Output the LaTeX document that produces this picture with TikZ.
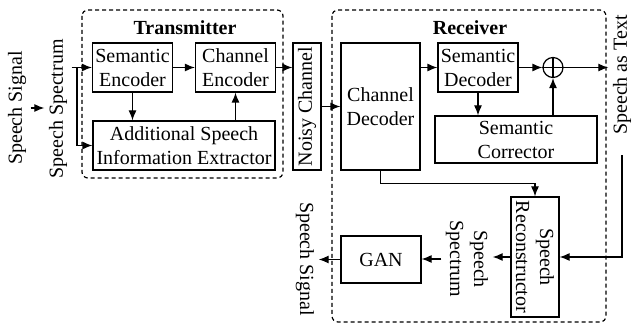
\documentclass[tikz,border=0pt]{standalone}
\usepackage{fontspec}
\setmainfont{Liberation Serif}
\usetikzlibrary{arrows.meta}
\begin{document}
\begin{tikzpicture}[x=0.5pt, y=-0.5pt, line width=0.6pt,
    >={Latex[length=5pt,width=4pt]},
    every node/.style={font=\fontsize{10}{12}\selectfont},
    block/.style={draw, align=center, inner sep=1pt},
    frame/.style={dash pattern=on 2pt off 1.5pt, rounded corners=3pt},
    lbl/.style={align=center, inner sep=2pt}]

      \useasboundingbox (0,0) rectangle (632,331);

      % Dashed frames of transmitter and receiver
      \draw[frame] (82,10) rectangle (283,178);
      \draw[frame] (332,10) rectangle (606,322);
      \node[font=\fontsize{10}{12}\selectfont\bfseries] (ttx) at (185,28) {Transmitter};
      \node[font=\fontsize{10}{12}\selectfont\bfseries] (trx) at (470,28) {Receiver};

      % Blocks of the upper row
      \foreach \n/\x/\t in {se/132.5/{Semantic\\Encoder}, ce/235.5/{Channel\\Encoder}, sd/478/{Semantic\\Decoder}} {
          \node[block, minimum width=40pt, minimum height=24.5pt] (\n) at (\x, 67.5) {\t};
      }

      % Other blocks
      \node[block, minimum width=91pt, minimum height=24.5pt] (ase) at (184,145.5) {Additional Speech\\Information Extractor};
      \node[block, rotate=90, minimum width=63.5pt, minimum height=14pt] (nc) at (307,106.5) {Noisy Channel};
      \node[block, minimum width=39.5pt, minimum height=63.5pt] (cd) at (380.5,106.5) {Channel\\Decoder};
      \node[draw, circle, minimum size=10pt, inner sep=0pt] (plus) at (553,67.5) {};
      \node[block, minimum width=81pt, minimum height=23.5pt] (sc) at (516,139.5) {Semantic\\Corrector};
      \node[block, rotate=-90, minimum width=60pt, minimum height=24pt] (sr) at (535,257) {Speech\\Reconstructor};
      \node[block, minimum width=40pt, minimum height=23.5pt] (gan) at (381,259.5) {GAN};

      % Signal labels
      \node[lbl, rotate=90] (sig1) at (17,108) {Speech Signal};
      \node[lbl, rotate=90] (spec1) at (58,109) {Speech Spectrum};
      \node[lbl, rotate=90] (sat) at (622,75) {Speech as Text};
      \node[lbl, rotate=-90] (spec2) at (467,259) {Speech\\Spectrum};
      \node[lbl, rotate=-90] (sig2) at (305,259) {Speech Signal};

      % Transmitter connections
      \coordinate (br) at (77,67.5);
      \draw[->] (sig1.south) -- (sig1.south -| spec1.north);
      \draw[->] (spec1.south |- se.west) -- (se.west);
      \draw[->] (br) |- (ase.west);
      \draw[->] (se.east) -- (ce.west);
      \draw[->] (se.south) -- (se.south |- ase.north);
      \draw[->] (ce.south |- ase.north) -- (ce.south);
      \draw[->] (ce.east) -- (ce.east -| nc.north);

      % Receiver connections
      \draw[->] (nc.south) -- (nc.south -| cd.west);
      \draw[->] (cd.east |- sd.west) -- (sd.west);
      \draw[->] (sd.east) -- (plus.west);
      \draw (plus.north) -- (plus.south) (plus.west) -- (plus.east);
      \draw[->] (sd.south) -- (sd.south |- sc.north);
      \draw[->] (sc.north -| plus.south) -- (plus.south);
      \draw[->] (plus.east) -- (plus.east -| sat.north);
      \draw[->] ([yshift=-8pt]sat.west) |- (sr.north);
      \draw[->] (cd.south) -- ++(0,13) -| (sr.west);
      \draw[->] (sr.south) -- (sr.south -| spec2.north);
      \draw[->] (spec2.south) -- (spec2.south -| gan.east);
      \draw[->] (gan.west) -- (gan.west -| sig2.north);

\end{tikzpicture}
\end{document}
